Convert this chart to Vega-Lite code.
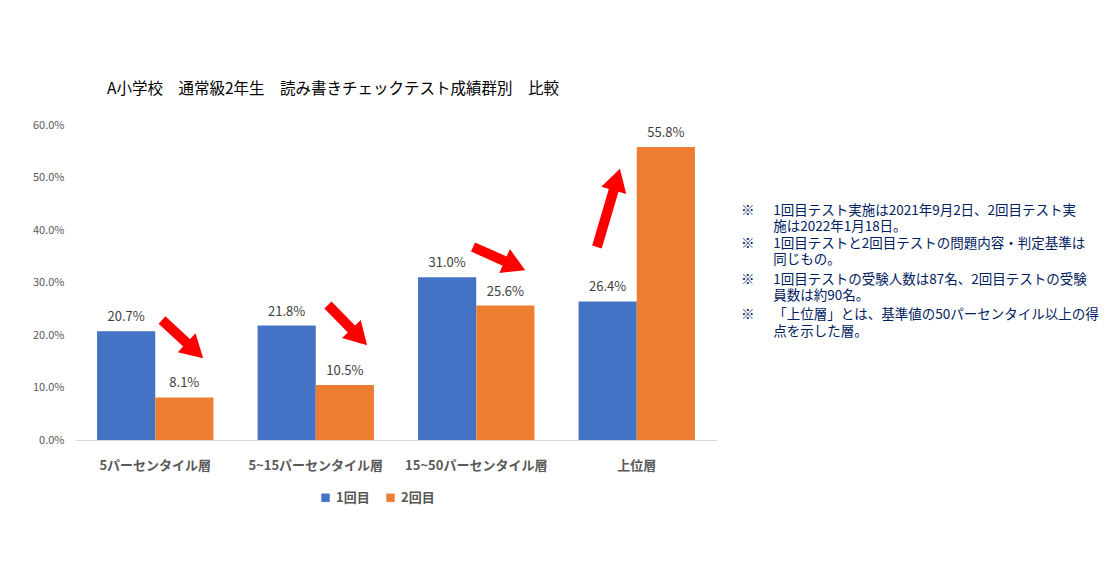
{
  "$schema": "https://vega.github.io/schema/vega-lite/v6.json",
  "width": 642,
  "height": 315,
  "autosize": {"type": "none"},
  "padding": {"left": 75, "top": 125, "right": 397, "bottom": 145},
  "background": "white",
  "config": {
    "font": "Noto Sans CJK JP",
    "view": {"stroke": null},
    "axisY": {
      "values": [0, 0.1, 0.2, 0.3, 0.4, 0.5, 0.6],
      "format": ".1%",
      "labelFontSize": 11,
      "labelColor": "#595959",
      "labelPadding": 11,
      "domain": false,
      "ticks": false,
      "grid": false,
      "title": null
    },
    "legend": {
      "orient": "none",
      "legendX": 244,
      "legendY": 366,
      "direction": "horizontal",
      "title": null,
      "padding": 0,
      "symbolType": "square",
      "symbolSize": 70,
      "symbolStrokeWidth": 0,
      "labelFontSize": 13,
      "labelFontWeight": "bold",
      "labelColor": "#595959",
      "labelOffset": 4,
      "columnPadding": 14
    }
  },
  "title": {
    "text": "A小学校　通常級2年生　読み書きチェックテスト成績群別　比較",
    "anchor": "start",
    "frame": "group",
    "dx": 32,
    "offset": 22,
    "fontSize": 15.5,
    "fontWeight": "normal",
    "color": "#000000",
    "font": "Noto Sans CJK JP"
  },
  "datasets": {
    "bars": [
      {"group": "5パーセンタイル層", "series": "1回目", "value": 0.207},
      {"group": "5パーセンタイル層", "series": "2回目", "value": 0.081},
      {"group": "5~15パーセンタイル層", "series": "1回目", "value": 0.218},
      {"group": "5~15パーセンタイル層", "series": "2回目", "value": 0.105},
      {"group": "15~50パーセンタイル層", "series": "1回目", "value": 0.310},
      {"group": "15~50パーセンタイル層", "series": "2回目", "value": 0.256},
      {"group": "上位層", "series": "1回目", "value": 0.264},
      {"group": "上位層", "series": "2回目", "value": 0.558}
    ],
    "arrows": [
      {"x": 0.542, "y": 0.2286, "hx": 0.747, "hy": 0.1705, "angle": 133},
      {"x": 1.576, "y": 0.2571, "hx": 1.771, "hy": 0.196, "angle": 136},
      {"x": 2.480, "y": 0.3676, "hx": 2.741, "hy": 0.3322, "angle": 114},
      {"x": 3.252, "y": 0.3676, "hx": 3.376, "hy": 0.4962, "angle": 16}
    ],
    "notes": [
      {"mark": "※", "text": "1回目テスト実施は2021年9月2日、2回目テスト実", "mx": 4.15, "tx": 4.35, "ny": 0.4362},
      {"mark": "", "text": "施は2022年1月18日。", "mx": 4.15, "tx": 4.35, "ny": 0.4057},
      {"mark": "※", "text": "1回目テストと2回目テストの問題内容・判定基準は", "mx": 4.15, "tx": 4.35, "ny": 0.3733},
      {"mark": "", "text": "同じもの。", "mx": 4.15, "tx": 4.35, "ny": 0.3429},
      {"mark": "※", "text": "1回目テストの受験人数は87名、2回目テストの受験", "mx": 4.15, "tx": 4.35, "ny": 0.3048},
      {"mark": "", "text": "員数は約90名。", "mx": 4.15, "tx": 4.35, "ny": 0.2743},
      {"mark": "※", "text": "「上位層」とは、基準値の50パーセンタイル以上の得", "mx": 4.15, "tx": 4.35, "ny": 0.2381},
      {"mark": "", "text": "点を示した層。", "mx": 4.15, "tx": 4.35, "ny": 0.2057}
    ]
  },
  "layer": [
    {
      "data": {"name": "bars"},
      "encoding": {
        "x": {
          "field": "group", "type": "nominal", "sort": null,
          "scale": {"paddingInner": 0.275, "paddingOuter": 0.1375},
          "axis": {
            "title": null, "labelAngle": 0, "ticks": false,
            "domainColor": "#d9d9d9", "domainWidth": 1,
            "labelFontSize": 13, "labelFontWeight": "bold", "labelColor": "#595959",
            "labelPadding": 19
          }
        },
        "xOffset": {"field": "series", "type": "nominal", "sort": null},
        "y": {"field": "value", "type": "quantitative", "scale": {"domain": [0, 0.6], "nice": false}, "title": null}
      },
      "layer": [
        {
          "mark": {"type": "bar"},
          "encoding": {
            "color": {"field": "series", "type": "nominal", "sort": null, "scale": {"range": ["#4472C4", "#ED7D31"]}}
          }
        },
        {
          "mark": {"type": "text", "baseline": "middle", "dy": -14, "fontSize": 13, "color": "#404040"},
          "encoding": {
            "text": {"field": "value", "type": "quantitative", "format": ".1%"}
          }
        }
      ]
    },
    {
      "layer": [
        {
          "data": {"name": "arrows"},
          "mark": {"type": "rule", "color": "#FF0000", "strokeWidth": 10, "strokeCap": "butt"},
          "encoding": {
            "x": {"field": "x", "type": "quantitative", "scale": {"domain": [0, 4], "nice": false, "zero": false}, "axis": null},
            "x2": {"field": "hx"},
            "y": {"field": "y", "type": "quantitative", "title": null},
            "y2": {"field": "hy"}
          }
        },
        {
          "data": {"name": "arrows"},
          "mark": {"type": "point", "shape": "triangle-up", "filled": true, "color": "#FF0000", "opacity": 1, "size": 680, "strokeWidth": 0},
          "encoding": {
            "x": {"field": "hx", "type": "quantitative", "scale": {"domain": [0, 4], "nice": false, "zero": false}, "axis": null},
            "y": {"field": "hy", "type": "quantitative", "title": null},
            "angle": {"field": "angle", "type": "quantitative", "scale": null}
          }
        },
        {
          "data": {"name": "notes"},
          "mark": {"type": "text", "align": "left", "baseline": "middle", "fontSize": 13.5, "color": "#002060"},
          "encoding": {
            "x": {"field": "mx", "type": "quantitative", "scale": {"domain": [0, 4], "nice": false, "zero": false}, "axis": null},
            "y": {"field": "ny", "type": "quantitative", "title": null},
            "text": {"field": "mark"}
          }
        },
        {
          "data": {"name": "notes"},
          "mark": {"type": "text", "align": "left", "baseline": "middle", "fontSize": 13.5, "color": "#002060"},
          "encoding": {
            "x": {"field": "tx", "type": "quantitative", "scale": {"domain": [0, 4], "nice": false, "zero": false}, "axis": null},
            "y": {"field": "ny", "type": "quantitative", "title": null},
            "text": {"field": "text"}
          }
        }
      ]
    }
  ],
  "resolve": {"scale": {"x": "independent"}}
}
